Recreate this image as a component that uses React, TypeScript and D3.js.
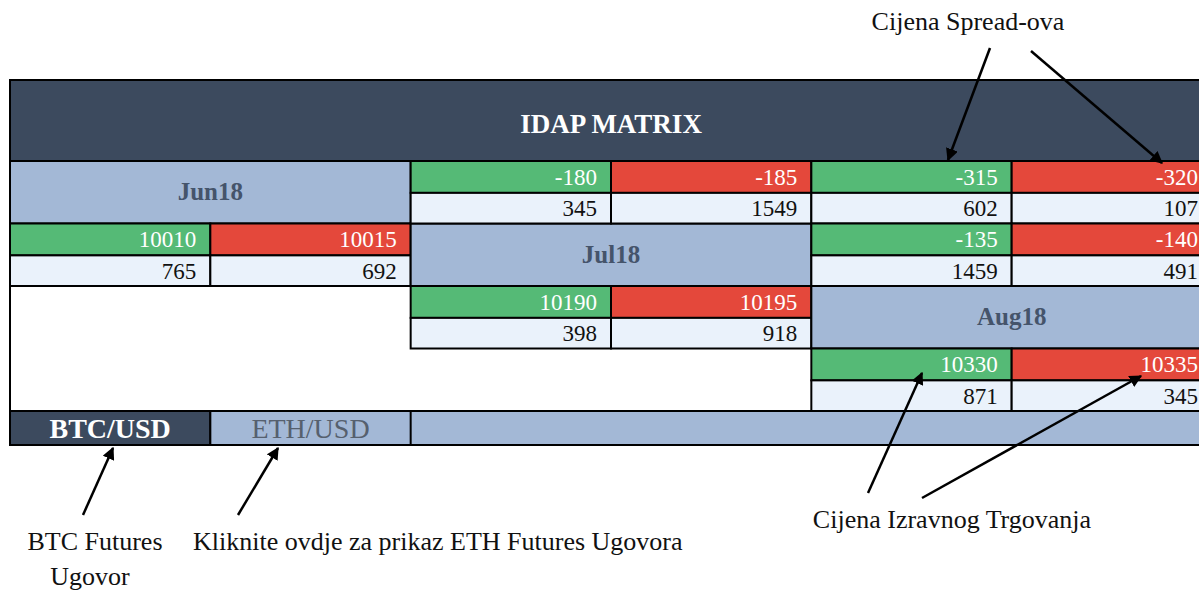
import React from 'react'
import * as d3 from 'd3'

const W = 1199
const H = 592

const TITLE = 'IDAP MATRIX'
const months = ['Jun18', 'Jul18', 'Aug18']

// outright prices per month (bid / ask) and their sizes
const outrightBid = [10010, 10190, 10330]
const outrightAsk = [10015, 10195, 10335]
const outrightBidQty = [765, 398, 871]
const outrightAskQty = [692, 918, 345]

// spreads: [from month, to month]
const spreadPairs = [[0, 1], [0, 2], [1, 2]]
const spreadBid = [-180, -315, -135]
const spreadAsk = [-185, -320, -140]
const spreadBidQty = [345, 602, 1459]
const spreadAskQty = [1549, 107, 491]

const tabs = ['BTC/USD', 'ETH/USD']

const COL = {
  dark: '#3c4a5e',
  header: '#a3b8d6',
  green: '#55ba76',
  red: '#e4483b',
  light: '#eaf2fb',
  monthText: '#45546b',
  line: '#000',
}
const FONT = '"Liberation Serif", "DejaVu Serif", serif'

export default function App() {
  const left = 10
  const right = 1212
  const top = 80
  const headBottom = 161
  const gridBottom = 411
  const tabBottom = 445

  const xBlock = d3.scaleBand<number>().domain(d3.range(months.length)).range([left, right])
  const yBlock = d3.scaleBand<number>().domain(d3.range(months.length + 1)).range([headBottom, gridBottom])
  const bw = xBlock.bandwidth()
  const bh = yBlock.bandwidth()
  const topH = bh * 0.51

  const cells: React.ReactNode[] = []

  const quad = (key: string, col: number, row: number, bid: number, ask: number, bq: number, aq: number) => {
    const x0 = xBlock(col)!
    const y0 = yBlock(row)!
    const half = bw / 2
    const items = [
      { x: x0, y: y0, w: half, h: topH, fill: COL.green, txt: bid, c: '#fff' },
      { x: x0 + half, y: y0, w: half, h: topH, fill: COL.red, txt: ask, c: '#fff' },
      { x: x0, y: y0 + topH, w: half, h: bh - topH, fill: COL.light, txt: bq, c: '#111' },
      { x: x0 + half, y: y0 + topH, w: half, h: bh - topH, fill: COL.light, txt: aq, c: '#111' },
    ]
    items.forEach((it, i) => {
      cells.push(
        <g key={`${key}-${i}`}>
          <rect x={it.x} y={it.y} width={it.w} height={it.h} fill={it.fill} stroke={COL.line} strokeWidth={2} />
          <text x={it.x + it.w - 14} y={it.y + it.h / 2 + 8} textAnchor="end" fill={it.c}
            fontSize={23} fontFamily={FONT}>{it.txt}</text>
        </g>
      )
    })
  }

  months.forEach((m, k) => {
    const x0 = xBlock(k)!
    const y0 = yBlock(k)!
    cells.push(
      <g key={`h-${m}`}>
        <rect x={x0} y={y0} width={bw} height={bh} fill={COL.header} stroke={COL.line} strokeWidth={2} />
        <text x={x0 + bw / 2} y={y0 + bh / 2 + 8} textAnchor="middle" fill={COL.monthText}
          fontSize={25} fontWeight="bold" fontFamily={FONT}>{m}</text>
      </g>
    )
    quad(`o-${m}`, k, k + 1, outrightBid[k], outrightAsk[k], outrightBidQty[k], outrightAskQty[k])
  })
  spreadPairs.forEach(([a, b], i) => {
    quad(`s-${i}`, b, a, spreadBid[i], spreadAsk[i], spreadBidQty[i], spreadAskQty[i])
  })

  const tabW = bw / 2
  const arrows = [
    [990, 48, 948, 160],
    [1031, 51, 1162, 163],
    [868, 493, 922, 373],
    [922, 498, 1141, 376],
    [83, 515, 113, 448],
    [238, 515, 278, 448],
  ]

  return (
    <svg width={W} height={H} style={{ position: 'absolute', left: 0, top: 0, background: '#fff' }}>
      <defs>
        <marker id="ah" viewBox="0 0 10 10" refX={9} refY={5} markerWidth={5} markerHeight={5}
          orient="auto" markerUnits="strokeWidth">
          <path d="M0,0 L10,5 L0,10 z" fill="#000" />
        </marker>
      </defs>

      {/* title band */}
      <rect x={left} y={top} width={right - left} height={headBottom - top} fill={COL.dark} stroke={COL.line} strokeWidth={2} />
      <text x={(left + right) / 2} y={(top + headBottom) / 2 + 12} textAnchor="middle" fill="#fff"
        fontSize={27} fontWeight="bold" fontFamily={FONT}>{TITLE}</text>

      {/* empty area outline */}
      <rect x={left} y={headBottom} width={right - left} height={gridBottom - headBottom} fill="#fff" stroke={COL.line} strokeWidth={2} />

      {cells}

      {/* tabs */}
      <rect x={left} y={gridBottom} width={right - left} height={tabBottom - gridBottom} fill={COL.header} stroke={COL.line} strokeWidth={2} />
      {tabs.map((t, i) => (
        <g key={t}>
          <rect x={left + i * tabW} y={gridBottom} width={tabW} height={tabBottom - gridBottom}
            fill={i === 0 ? COL.dark : COL.header} stroke={COL.line} strokeWidth={2} />
          <text x={left + i * tabW + tabW / 2} y={(gridBottom + tabBottom) / 2 + 10} textAnchor="middle"
            fill={i === 0 ? '#fff' : '#56606e'} fontWeight={i === 0 ? 'bold' : 'normal'}
            fontSize={28} fontFamily={FONT}>{t}</text>
        </g>
      ))}

      {/* annotations */}
      {arrows.map(([x1, y1, x2, y2], i) => (
        <line key={i} x1={x1} y1={y1} x2={x2} y2={y2} stroke="#000" strokeWidth={2.5} markerEnd="url(#ah)" />
      ))}
      <g fontFamily={FONT} fontSize={26} fill="#111">
        <text x={968} y={30} textAnchor="middle">Cijena Spread-ova</text>
        <text x={952} y={528} textAnchor="middle">Cijena Izravnog Trgovanja</text>
        <text x={95} y={550} textAnchor="middle">BTC Futures</text>
        <text x={90} y={585} textAnchor="middle">Ugovor</text>
        <text x={193} y={550}>Kliknite ovdje za prikaz ETH Futures Ugovora</text>
      </g>
    </svg>
  )
}
